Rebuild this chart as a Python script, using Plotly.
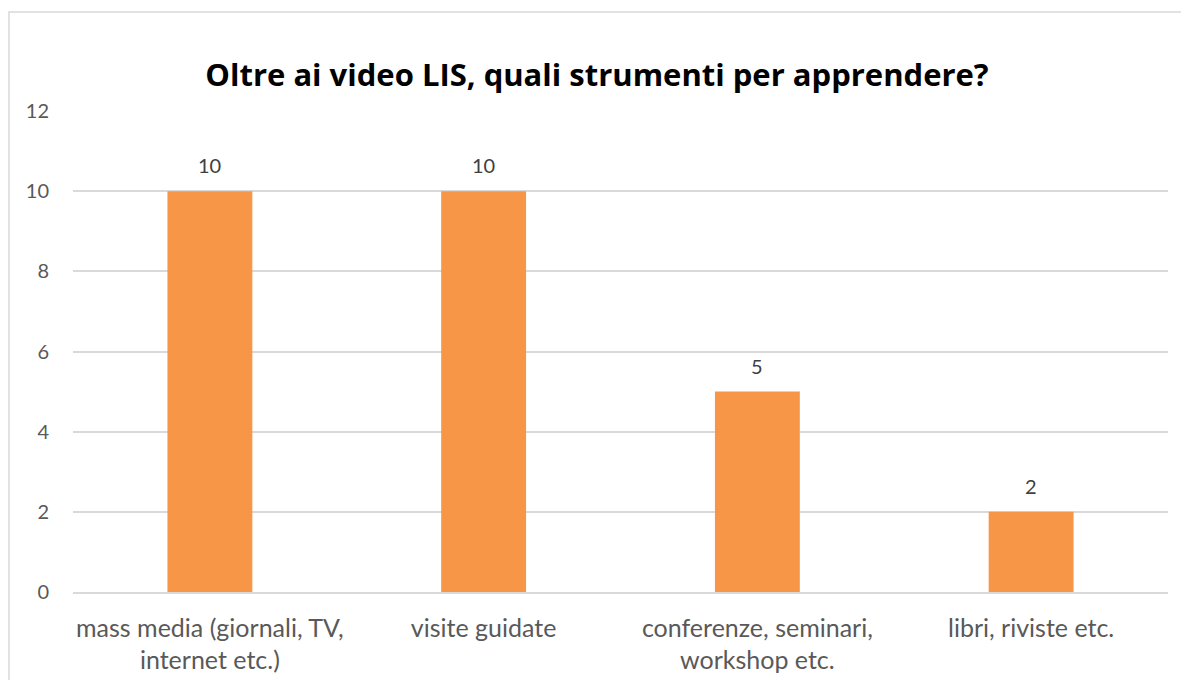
import plotly.graph_objects as go

categories = ["mass media (giornali, TV,<br>internet etc.)", "visite guidate",
              "conferenze, seminari,<br>workshop etc.", "libri, riviste etc."]
values = [10, 10, 5, 2]
y_ticks = [0, 2, 4, 6, 8, 10, 12]
title = "Oltre ai video LIS, quali strumenti per apprendere?"

# page has an 8px body margin; work in figure coordinates = page - 8
OFF = 8
W, H = 1189 - OFF, 680 - OFF
L, T = 73 - OFF, 111 - OFF
pw, ph = 1095, 481
R, B = W - L - pw, H - T - ph

FONT = "Lato, Open Sans, sans-serif"

fig = go.Figure(go.Bar(
    x=categories, y=values,
    marker=dict(color="#F79646", line=dict(width=0)),
    width=0.31,
))

for c, v in zip(categories, values):
    fig.add_annotation(x=c, y=v, text=str(v), showarrow=False,
                       yanchor="bottom", yshift=12,
                       font=dict(size=20, color="#404040", family=FONT))

fig.update_layout(
    width=W, height=H,
    margin=dict(l=L, r=R, t=T, b=B),
    paper_bgcolor="white", plot_bgcolor="white",
    font=dict(family=FONT, color="#595959", size=20),
    title=dict(text="<b>" + title + "</b>", x=(597 - OFF) / W, xref="container",
               xanchor="center", y=1 - (75 - OFF) / H, yanchor="middle",
               font=dict(size=31, color="black", family="Open Sans, sans-serif")),
    showlegend=False,
    xaxis=dict(showgrid=False, showline=True, linecolor="#D9D9D9", linewidth=1.5,
               ticks="", ticklabelstandoff=13, automargin=False,
               tickfont=dict(size=25, color="#595959")),
    yaxis=dict(range=[0, 12], tickvals=y_ticks, showgrid=True, gridcolor="#D9D9D9",
               gridwidth=1.5, zeroline=False, showline=False, ticks="",
               automargin=False,
               ticklabelstandoff=23, tickfont=dict(size=20, color="#595959")),
    shapes=[dict(type="rect", xref="paper", yref="paper",
                 x0=(9 - 73) / pw, x1=(1189 + 5 - 73) / pw,
                 y0=-(690 - 111 - ph) / ph, y1=(ph + 111 - 12) / ph,
                 line=dict(color="#D9D9D9", width=1.5), fillcolor="rgba(0,0,0,0)",
                 layer="below")],
)

fig.write_html("out.html")
